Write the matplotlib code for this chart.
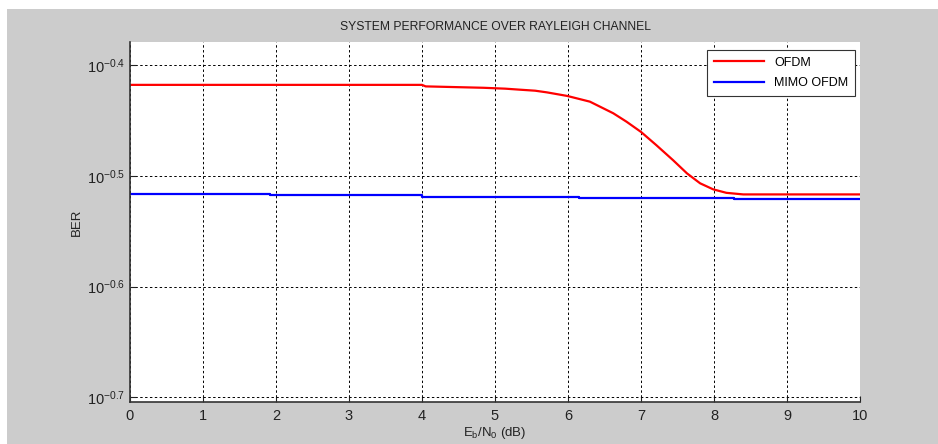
import numpy as np
import matplotlib
matplotlib.use("Agg")
import matplotlib.pyplot as plt
from matplotlib.patches import Rectangle

# values (BER vs Eb/N0)
ofdm_snr = [0, 4.0, 4.05, 4.84, 5.14, 5.34, 5.55, 5.71, 5.99, 6.30, 6.62, 6.80,
            7.0, 7.21, 7.44, 7.63, 7.81, 7.99, 8.17, 8.40, 10]
ofdm_ber = [0.3820, 0.3820, 0.3808, 0.3797, 0.3790, 0.3782, 0.3774, 0.3761, 0.3733,
            0.3689, 0.3601, 0.3539, 0.3464, 0.3370, 0.3266, 0.3178, 0.3113, 0.3074,
            0.3052, 0.3042, 0.3042]

mimo_snr = [0, 1.92, 4.0, 6.15, 8.27, 10]
mimo_ber = [0.3042, 0.3036, 0.3028, 0.3020, 0.3012, 0.3012]

ytick_exp = [-0.7, -0.6, -0.5, -0.4]
xticks = list(range(0, 11))

plt.rcParams['font.family'] = ['Liberation Sans', 'DejaVu Sans']
plt.rcParams['mathtext.fontset'] = 'custom'
plt.rcParams['mathtext.rm'] = 'Liberation Sans'
plt.rcParams['mathtext.it'] = 'Liberation Sans'

fig = plt.figure(figsize=(9.38, 4.44), dpi=100, facecolor="white")
# gray MATLAB-like window background, white strip on top and left
fig.patches.append(Rectangle((7 / 938, 0), 1, 1 - 9 / 444, transform=fig.transFigure,
                             facecolor="#cccccc", edgecolor="none", zorder=-10))

ax = fig.add_axes([130 / 938, 42.3 / 444, 730 / 938, 359.4 / 444])
ax.set_facecolor("white")

ax.plot(ofdm_snr, ofdm_ber, color="red", lw=1.6, label="OFDM")
ax.plot(mimo_snr, mimo_ber, color="blue", lw=1.6, drawstyle="steps-post", label="MIMO OFDM")

ax.set_yscale("log")
ax.set_xlim(0, 10)
ax.set_ylim(10 ** -0.704, 10 ** -0.3795)
ax.set_xticks(xticks)
ax.set_xticklabels([str(t) for t in xticks])
ax.set_yticks([10 ** e for e in ytick_exp])
ax.set_yticklabels([r"$\mathregular{10^{%s}}$" % ("{-}" + ("%.1f" % e)[1:]) for e in ytick_exp])
ax.yaxis.set_minor_locator(matplotlib.ticker.NullLocator())

ax.grid(True, color="black", linestyle=(0, (2.5, 2.5)), lw=0.7)
ax.tick_params(direction="in", length=4, labelsize=10.5, colors="#222222")
ax.tick_params(axis="x", pad=5)
for s in ["top", "right"]:
    ax.spines[s].set_visible(False)
for s in ["left", "bottom"]:
    ax.spines[s].set_color("#333333")
    ax.spines[s].set_linewidth(1.2)

ax.set_title("SYSTEM PERFORMANCE OVER RAYLEIGH CHANNEL", fontsize=8.7, color="#222222", pad=9)
ax.set_xlabel(r"E$_\mathregular{b}$/N$_\mathregular{0}$ (dB)", fontsize=9.5, color="#222222", labelpad=2)
ax.set_ylabel("BER", fontsize=9.5, color="#222222")
ax.yaxis.set_label_coords(-0.064, 0.5)

leg = ax.legend(loc="upper right", bbox_to_anchor=(0.993, 0.979), borderaxespad=0,
                fontsize=9, fancybox=False, framealpha=1, edgecolor="#333333",
                handlelength=4.0, borderpad=0.55, labelspacing=0.7)
leg.get_frame().set_linewidth(0.8)

fig.savefig("out.png", dpi=100, facecolor=fig.get_facecolor())
